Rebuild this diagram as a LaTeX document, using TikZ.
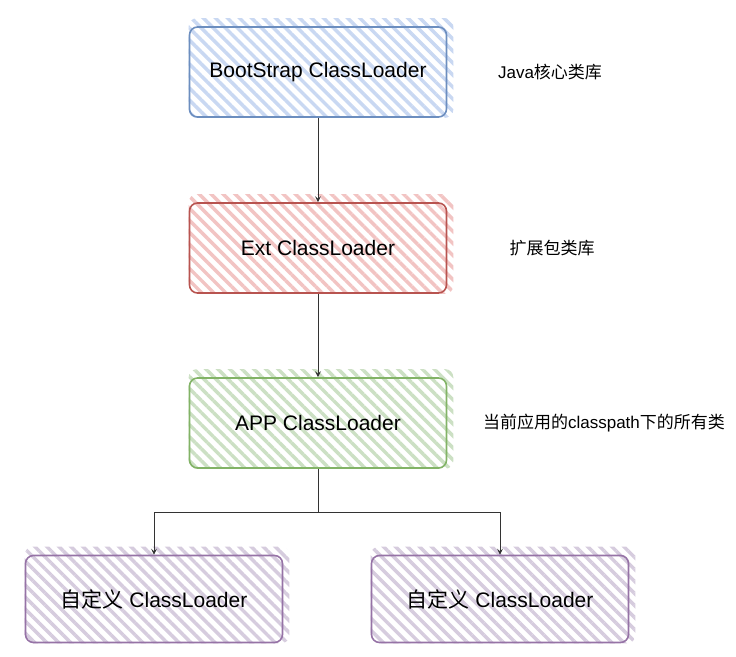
\documentclass[tikz,border=0pt]{standalone}
\usepackage{fontspec}
\setmainfont{Liberation Sans}
\newfontfamily\cjk{Noto Sans CJK SC}
\usetikzlibrary{patterns.meta,arrows.meta,backgrounds}

\definecolor{azulborda}{RGB}{108,142,191}
\definecolor{azulhach}{RGB}{201,216,242}
\definecolor{vermborda}{RGB}{184,84,80}
\definecolor{vermhach}{RGB}{242,196,195}
\definecolor{verdeborda}{RGB}{130,179,102}
\definecolor{verdehach}{RGB}{204,224,196}
\definecolor{roxoborda}{RGB}{150,115,166}
\definecolor{roxohach}{RGB}{214,204,222}

\begin{document}
\begin{tikzpicture}[x=1pt,y=-1pt,
    caixa/.style={draw, line width=1.6pt, rounded corners=8pt, minimum width=257pt,
        minimum height=90pt, inner sep=0pt, font=\fontsize{21}{24}\selectfont},
    hachura/.style={pattern={Lines[angle=-45,distance=8.5pt,line width=3.5pt]}, rounded corners=8pt},
    seta/.style={-{Stealth[length=6pt,width=6pt,inset=2.5pt]}, line width=0.8pt, black!80},
    nota/.style={font=\fontsize{17}{20}\selectfont}]

    % Área do desenho
    \useasboundingbox (0,0) rectangle (736,656);

    % Carregadores
    \node[caixa, draw=azulborda] (boot) at (318,72) {BootStrap ClassLoader};
    \node[caixa, draw=vermborda] (ext) at (318,248) {Ext ClassLoader};
    \node[caixa, draw=verdeborda] (app) at (318,423) {APP ClassLoader};
    \node[caixa, draw=roxoborda, minimum height=87pt] (custom1) at (154,599) {{\cjk 自定义} ClassLoader};
    \node[caixa, draw=roxoborda, minimum height=87pt] (custom2) at (500,599) {{\cjk 自定义} ClassLoader};

    % Hachuras
    \begin{scope}[on background layer]
        \foreach \n/\c in {boot/azulhach, ext/vermhach, app/verdehach, custom1/roxohach, custom2/roxohach}
            \fill[hachura, pattern color=\c] (\n.south west) rectangle ([xshift=6pt,yshift=8pt]\n.north east);
    \end{scope}

    % Notas
    \node[nota] (javalib) at (550,72) {Java{\cjk 核心类库}};
    \node[nota] (extlib) at (552,248) {\cjk 扩展包类库};
    \node[nota] (applib) at (604,423) {{\cjk 当前应用的}classpath{\cjk 下的所有类}};

    % Ligações
    \coordinate (ramo) at (318,512);
    \draw[seta] (boot) -- (ext);
    \draw[seta] (ext) -- (app);
    \draw[seta] (app.south) -- (ramo) -| (custom1.north);
    \draw[seta] (app.south) -- (ramo) -| (custom2.north);

\end{tikzpicture}
\end{document}
